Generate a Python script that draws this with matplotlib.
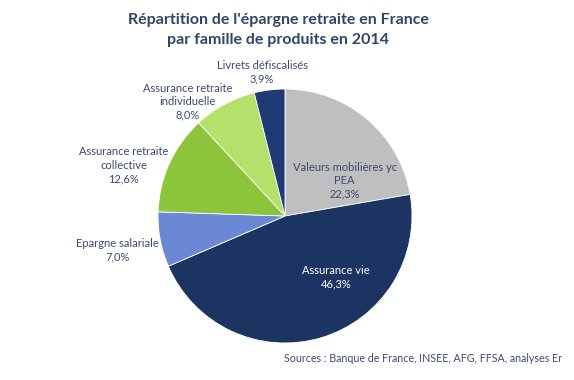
import numpy as np
import matplotlib
matplotlib.use("Agg")
import matplotlib.pyplot as plt

plt.rcParams['font.family'] = ['Lato', 'DejaVu Sans']

# data (clockwise from the top)
labels = ["Valeurs mobilières yc\nPEA", "Assurance vie", "Epargne salariale",
          "Assurance retraite\ncollective", "Assurance retraite\nindividuelle",
          "Livrets défiscalisés"]
values = [22.3, 46.3, 7.0, 12.6, 8.0, 3.9]
colors = ["#bfbfbf", "#1c3461", "#6a88d4", "#8cc53c", "#b4e06c", "#1f3a75"]
# label placement (data units, pie radius = 1)
label_pos = [(0.47, 0.28), (0.40, -0.48), (-1.32, -0.27),
             (-1.27, 0.40), (-0.77, 0.90), (-0.18, 1.13)]
label_col = ["#3c4a6e", "white", "#3c4a6e", "#3c4a6e", "#3c4a6e", "#3c4a6e"]

W, H = 574, 380
fig = plt.figure(figsize=(W / 100, H / 100), dpi=100)
cx, cy, r = 285, 216, 127
ax = fig.add_axes([(cx - r) / W, (H - cy - r) / H, 2 * r / W, 2 * r / H])

ax.pie(values, colors=colors, startangle=90, counterclock=False,
       wedgeprops=dict(edgecolor="white", linewidth=0.6))
ax.set_xlim(-1, 1)
ax.set_ylim(-1, 1)
ax.axis("off")

for lab, v, (x, y), c in zip(labels, values, label_pos, label_col):
    txt = lab + "\n" + f"{v:.1f}".replace(".", ",") + "%"
    ax.text(x, y, txt, ha="center", va="center", fontsize=8, color=c,
            linespacing=1.25)

fig.text(278 / W, 1 - 30 / H,
         "Répartition de l'épargne retraite en France\npar famille de produits en 2014",
         ha="center", va="center", fontsize=11.5, fontweight="bold",
         color="#2f4668", linespacing=1.6)
fig.text(284 / W, 1 - 359 / H,
         "Sources : Banque de France, INSEE, AFG, FFSA, analyses Er",
         ha="left", va="center", fontsize=7.7, color="#3c4a6e")

fig.savefig("out.png", dpi=100)
